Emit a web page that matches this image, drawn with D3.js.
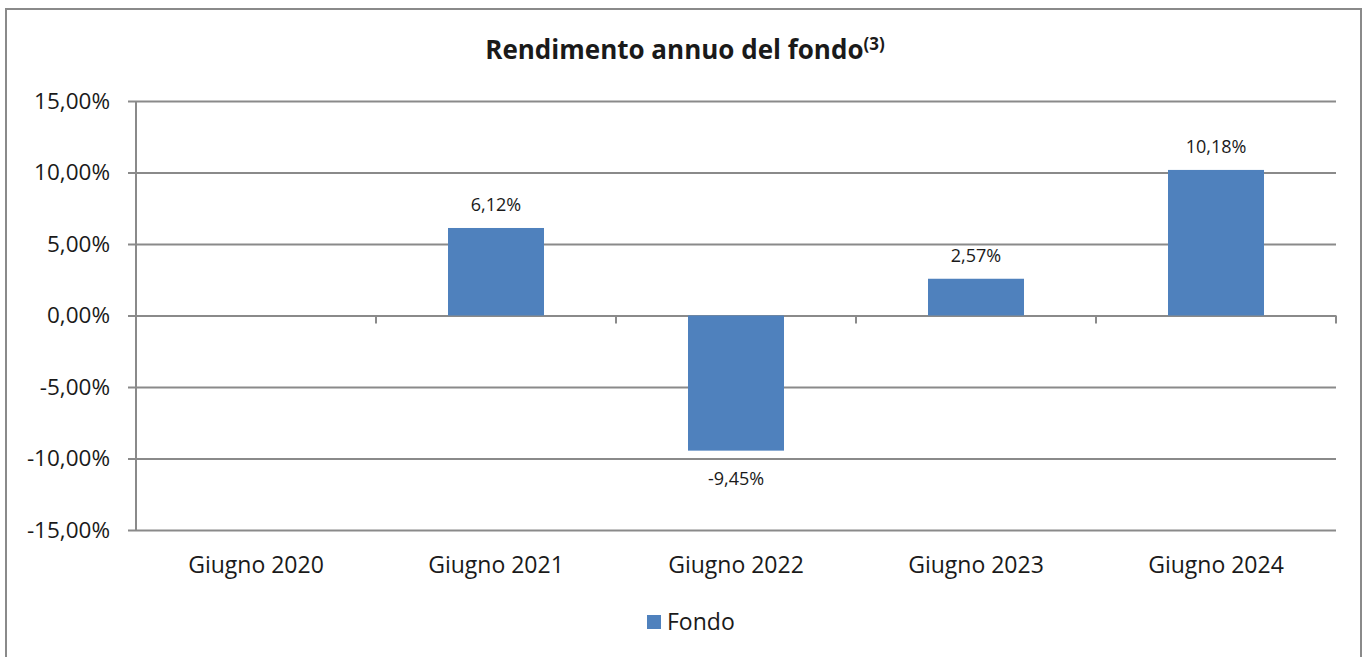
<!DOCTYPE html>
<html>
<head>
<meta charset="utf-8">
<script src="https://cdn.jsdelivr.net/npm/d3@7"></script>
<style>
  body { margin: 0; background: #fff; }
  text { font-family: "Open Sans", sans-serif; fill: #1a1a1a; }
</style>
</head>
<body>
<div id="container"></div>
<script>
/* DATA */
const categories = ["Giugno 2020", "Giugno 2021", "Giugno 2022", "Giugno 2023", "Giugno 2024"];
const fondo = [null, 6.12, -9.45, 2.57, 10.18];
const yTicks = [15, 10, 5, 0, -5, -10, -15];
const seriesName = "Fondo";

/* CONSTANTS */
const width = 1365,
  height = 657,
  margin = { top: 101, bottom: 127, left: 136, right: 29 };
const plotW = width - margin.left - margin.right;

const fmt = v => d3.format(".2f")(v).replace(".", ",").replace("\u2212", "-") + "%";
const gridColor = "#8a8a8a";
const barColor = "#4f81bd";

const svg = d3.select("#container")
  .append("svg")
  .attr("width", width)
  .attr("height", height);

// outer frame
svg.append("rect")
  .attr("x", 6).attr("y", 9)
  .attr("width", 1355).attr("height", 660)
  .attr("fill", "none")
  .attr("stroke", gridColor)
  .attr("stroke-width", 2);

// title
const title = svg.append("text")
  .attr("x", 685).attr("y", 59)
  .attr("text-anchor", "middle")
  .attr("font-weight", "bold")
  .attr("font-size", 26);
title.append("tspan").text("Rendimento annuo del fondo");
title.append("tspan").attr("dy", -9).attr("font-size", 17).text("(3)");

// scales
const xScale = d3.scaleBand()
  .domain(categories)
  .range([margin.left, width - margin.right])
  .paddingInner(0.6)
  .paddingOuter(0.3);

const xOuter = d3.scaleBand()
  .domain(categories)
  .range([margin.left, width - margin.right]);

const yScale = d3.scaleLinear()
  .domain([-15, 15])
  .range([height - margin.bottom, margin.top]);

// gridlines + y labels
const yAxis = d3.axisLeft(yScale)
  .tickValues(yTicks)
  .tickSize(-(plotW + 8))
  .tickPadding(18)
  .tickFormat(fmt);

const yAxisGroup = svg.append("g")
  .attr("transform", `translate(${margin.left - 8}, 0)`)
  .call(yAxis);
yAxisGroup.select(".domain").remove();
yAxisGroup.selectAll(".tick line")
  .attr("stroke", gridColor)
  .attr("stroke-width", 2);
yAxisGroup.selectAll(".tick text")
  .attr("x", -18)
  .attr("font-family", "'Open Sans', sans-serif")
  .attr("font-size", 22.5)
  .attr("fill", "#1a1a1a");

// vertical axis line
svg.append("line")
  .attr("x1", margin.left).attr("x2", margin.left)
  .attr("y1", yScale(15)).attr("y2", yScale(-15))
  .attr("stroke", gridColor)
  .attr("stroke-width", 2);

// category tick marks on zero line
svg.append("g")
  .selectAll("line")
  .data(categories)
  .join("line")
  .attr("x1", d => xOuter(d) + xOuter.bandwidth())
  .attr("x2", d => xOuter(d) + xOuter.bandwidth())
  .attr("y1", yScale(0))
  .attr("y2", yScale(0) + 8)
  .attr("stroke", gridColor)
  .attr("stroke-width", 2);

// bars
const barData = categories.map((c, i) => ({ cat: c, value: fondo[i] })).filter(d => d.value !== null);

svg.append("g")
  .selectAll("rect")
  .data(barData)
  .join("rect")
  .attr("x", d => xScale(d.cat))
  .attr("width", xScale.bandwidth())
  .attr("y", d => yScale(Math.max(0, d.value)))
  .attr("height", d => Math.abs(yScale(d.value) - yScale(0)))
  .attr("fill", barColor);

// value labels
svg.append("g")
  .selectAll("text")
  .data(barData)
  .join("text")
  .attr("x", d => xScale(d.cat) + xScale.bandwidth() / 2)
  .attr("y", d => d.value >= 0 ? yScale(d.value) - 17 : yScale(d.value) + 34)
  .attr("text-anchor", "middle")
  .attr("font-size", 18)
  .text(d => fmt(d.value));

// category labels
svg.append("g")
  .selectAll("text")
  .data(categories)
  .join("text")
  .attr("x", d => xOuter(d) + xOuter.bandwidth() / 2)
  .attr("y", 573)
  .attr("text-anchor", "middle")
  .attr("font-size", 23)
  .text(d => d);

// legend
svg.append("rect")
  .attr("x", 647).attr("y", 615)
  .attr("width", 14).attr("height", 14)
  .attr("fill", barColor);
svg.append("text")
  .attr("x", 667).attr("y", 630)
  .attr("font-size", 23)
  .text(seriesName);
</script>
</body>
</html>
